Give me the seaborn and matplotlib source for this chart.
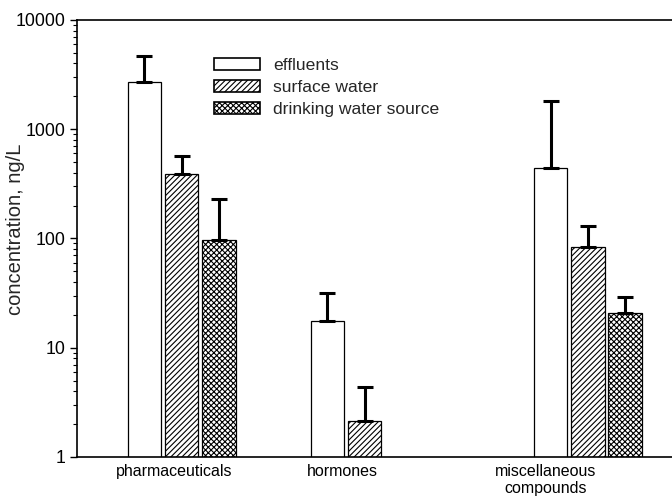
import seaborn as sns
import pandas as pd
import matplotlib.pyplot as plt
from matplotlib.patches import Patch
from matplotlib.ticker import FixedLocator, FuncFormatter, LogLocator

# data
groups = ['pharmaceuticals', 'hormones', 'miscellaneous\ncompounds']
series = ['effluents', 'surface water', 'drinking water source']
effluents = [2700, 17.6, 440]
surface_water = [390, 2.13, 84]
drinking_water = [97, None, 21]
effluents_top = [4700, 31.5, 1800]
surface_water_top = [570, 4.35, 130]
drinking_water_top = [230, None, 29]

# layout (x positions of the groups and of their labels)
group_pos = [0, 1, 2.22]
label_pos = [-0.04, 0.88, 1.99]
hatches = ['', '//////', 'xxxxxx']

values = [effluents, surface_water, drinking_water]
tops = [effluents_top, surface_water_top, drinking_water_top]

rows = []
for s, vals in zip(series, values):
    for g, v in zip(group_pos, vals):
        if v is not None:
            rows.append({'x': g, 'series': s, 'conc': v})
data = pd.DataFrame(rows)

sns.set_theme(style='ticks')
plt.rcParams['font.family'] = ['Liberation Sans', 'DejaVu Sans']
plt.rcParams['hatch.linewidth'] = 0.8
plt.rcParams['hatch.color'] = 'black'

fig = plt.figure(figsize=(6.72, 4.99), dpi=100)
ax = fig.add_axes([0.1146, 0.0842, 0.8854, 0.8758])

sns.barplot(data=data, x='x', y='conc', hue='series', hue_order=series,
            native_scale=True, palette=['white'] * 3, edgecolor='black',
            linewidth=0.9, width=0.61, gap=0.1, errorbar=None,
            saturation=1, legend=False, ax=ax)
ax.set_yscale('log')

# hatch each bar and add its upper error bar, matching bar height to the data
for bar in list(ax.patches):
    h = bar.get_height()
    for i in range(len(series)):
        for v, t in zip(values[i], tops[i]):
            if v is not None and abs(v - h) < 1e-9:
                bar.set_hatch(hatches[i])
                xc = bar.get_x() + bar.get_width() / 2
                ax.errorbar(xc, h, yerr=[[0], [t - h]], fmt='none',
                            ecolor='black', elinewidth=2.2, capsize=5.8,
                            capthick=2.2, zorder=3)

ax.set_ylim(1, 10000)
ax.set_xlim(-0.571, 2.679)
ax.yaxis.set_major_locator(FixedLocator([1, 10, 100, 1000, 10000]))
ax.yaxis.set_major_formatter(FuncFormatter(lambda v, p: '%d' % v))
ax.yaxis.set_minor_locator(LogLocator(base=10, subs=range(2, 10)))
ax.tick_params(axis='y', which='major', direction='out', length=5,
               width=1, labelsize=12.8, colors='black', pad=3)
ax.tick_params(axis='y', which='minor', direction='out', length=3,
               width=0.8, colors='black')
ax.set_xticks(label_pos)
ax.set_xticklabels(groups, fontsize=11.5)
ax.tick_params(axis='x', length=0, pad=5, colors='black')
ax.set_xlabel('')
ax.set_ylabel('concentration, ng/L', fontsize=14.5)
ax.yaxis.set_label_coords(-0.087, 0.522)

for sp in ['left', 'bottom', 'top']:
    ax.spines[sp].set_linewidth(1.2)
    ax.spines[sp].set_color('black')
ax.spines['right'].set_visible(False)

handles = [Patch(facecolor='white', edgecolor='black', linewidth=1.2, hatch=hh)
           for hh in hatches]
ax.legend(handles, series, loc='upper left',
          bbox_to_anchor=(0.230, 0.913), frameon=False, fontsize=12.6,
          handlelength=2.65, handleheight=0.7, handletextpad=0.73,
          labelspacing=0.38, borderpad=0, borderaxespad=0)

fig.savefig('out.png', dpi=100)
